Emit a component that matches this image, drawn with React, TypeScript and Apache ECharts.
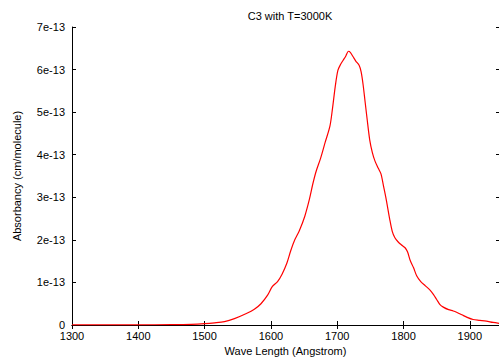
import React, { useEffect, useRef } from "react";
import * as echarts from "echarts";

// Wavelength (Angstrom)
const waveLength = [
  1300, 1350, 1400, 1450, 1480, 1500, 1515, 1530, 1545, 1563, 1575, 1585, 1595, 1602, 1610, 1617,
  1624, 1630, 1636, 1643, 1651, 1658, 1663, 1668, 1675, 1682, 1689, 1693, 1697, 1701, 1705, 1709,
  1713, 1717, 1720, 1724, 1728, 1733, 1736, 1739, 1742, 1745, 1749, 1753, 1757, 1762, 1766, 1770,
  1774, 1779, 1783, 1787, 1792, 1797, 1802, 1806, 1810, 1815, 1820, 1826, 1833, 1840, 1845, 1850,
  1855, 1860, 1868, 1875, 1880, 1888, 1896, 1905, 1915, 1925, 1935, 1944,
];
// Absorbancy in units of 1e-13 cm/molecule
const absorbancy = [
  0.002, 0.003, 0.004, 0.008, 0.015, 0.03, 0.05, 0.08, 0.15, 0.27, 0.37, 0.5, 0.7, 0.9, 1.02, 1.2,
  1.45, 1.75, 2.0, 2.22, 2.55, 2.95, 3.3, 3.6, 3.92, 4.3, 4.67, 5.1, 5.6, 5.98, 6.12, 6.22,
  6.32, 6.43, 6.4, 6.3, 6.2, 6.1, 5.95, 5.65, 5.25, 4.85, 4.35, 4.05, 3.85, 3.68, 3.55, 3.25,
  2.94, 2.5, 2.2, 2.05, 1.95, 1.88, 1.82, 1.72, 1.52, 1.35, 1.15, 1.02, 0.92, 0.82, 0.72, 0.6,
  0.48, 0.42, 0.36, 0.33, 0.3, 0.24, 0.18, 0.13, 0.11, 0.09, 0.06, 0.04,
];
const yTickLabels = ["0", "1e-13", "2e-13", "3e-13", "4e-13", "5e-13", "6e-13", "7e-13"];

const FONT = "'Liberation Sans', Arial, sans-serif";

export default function App() {
  const ref = useRef<HTMLDivElement>(null);
  useEffect(() => {
    if (!ref.current) return;
    const chart = echarts.init(ref.current, null, { renderer: "svg" });
    const axisLine = { show: true, lineStyle: { color: "#000", width: 1 } };
    const tick = { show: true, inside: true, length: 4, lineStyle: { color: "#000", width: 1 } };
    chart.setOption({
      animation: false,
      backgroundColor: "#fff",
      textStyle: { fontFamily: FONT },
      title: {
        text: "C3 with T=3000K",
        left: 285,
        textAlign: "center",
        top: 5,
        textStyle: { fontSize: 11, fontWeight: "normal", color: "#000", fontFamily: FONT },
      },
      grid: {
        left: 72,
        right: 0,
        top: 27,
        bottom: 33,
        containLabel: false,
        outerBoundsMode: "none",
      },
      xAxis: [
        {
          type: "value",
          min: 1300,
          max: 1944,
          interval: 100,
          position: "bottom",
          name: "Wave Length (Angstrom)",
          nameLocation: "middle",
          nameGap: 19,
          nameTextStyle: { fontSize: 11, color: "#000", fontFamily: FONT },
          axisLine,
          axisTick: tick,
          splitLine: { show: false },
          axisLabel: {
            fontSize: 11,
            color: "#000",
            margin: 5,
            showMaxLabel: false,
            fontFamily: FONT,
            formatter: (v: number) => String(v),
          },
        },
        {
          type: "value",
          min: 1300,
          max: 1944,
          interval: 100,
          position: "top",
          axisLine,
          axisTick: tick,
          splitLine: { show: false },
          axisLabel: { show: false },
        },
      ],
      yAxis: [
        {
          type: "value",
          min: 0,
          max: 7,
          interval: 1,
          position: "left",
          name: "Absorbancy (cm/molecule)",
          nameLocation: "middle",
          nameGap: 50,
          nameTextStyle: { fontSize: 11, color: "#000", fontFamily: FONT },
          axisLine,
          axisTick: tick,
          splitLine: { show: false },
          axisLabel: {
            fontSize: 11,
            color: "#000",
            margin: 7,
            fontFamily: FONT,
            formatter: (v: number) => yTickLabels[Math.round(v)] ?? "",
          },
        },
        {
          type: "value",
          min: 0,
          max: 7,
          interval: 1,
          position: "right",
          axisLine: { show: false },
          axisTick: { show: true, inside: true, length: 3, lineStyle: { color: "#000", width: 1 } },
          splitLine: { show: false },
          axisLabel: { show: false },
        },
      ],
      series: [
        {
          type: "line",
          data: waveLength.map((x, i) => [x, absorbancy[i]]),
          smooth: 0.3,
          showSymbol: false,
          lineStyle: { color: "#ff0000", width: 1.2 },
          itemStyle: { color: "#ff0000" },
        },
      ],
    });
    return () => chart.dispose();
  }, []);
  return (
    <div
      ref={ref}
      style={{ position: "fixed", left: 0, top: 0, width: 499, height: 358 }}
    />
  );
}
